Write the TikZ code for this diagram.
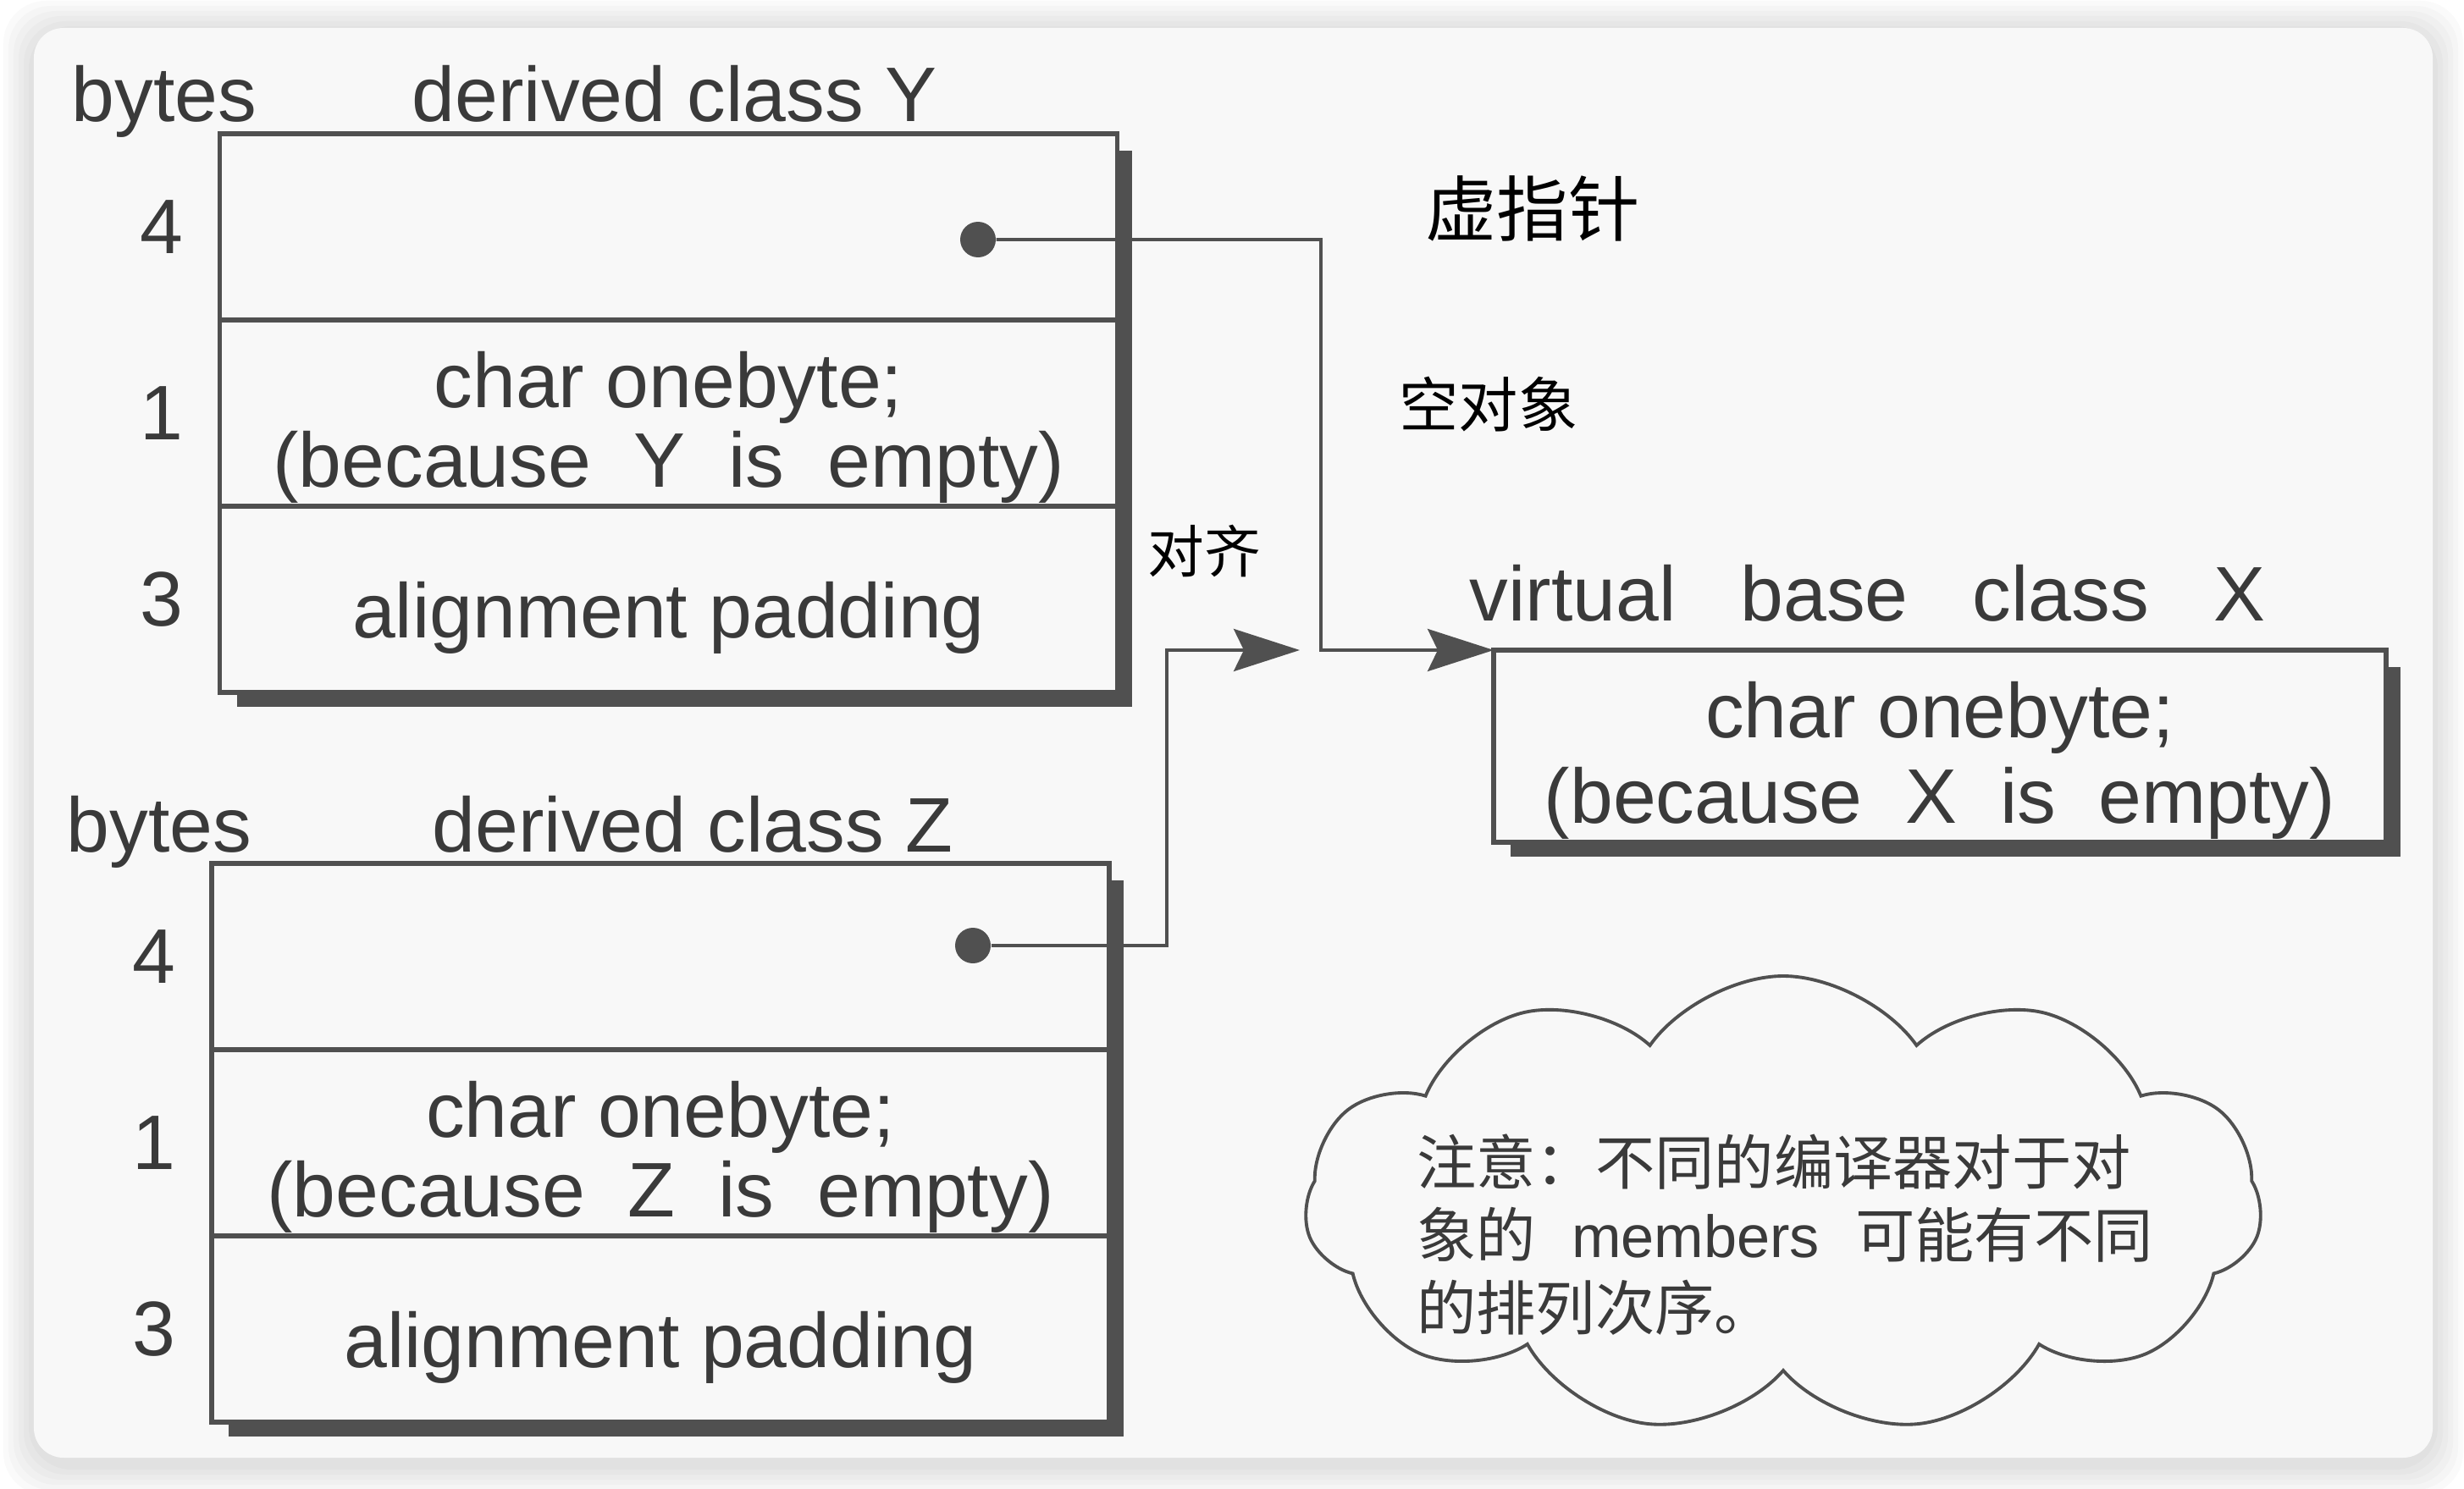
\documentclass[tikz,border=0pt]{standalone}
\usepackage{fontspec}
\setmainfont{Liberation Sans}
\newfontfamily\cjk{Noto Sans CJK SC}
\usepackage{tikz}
\usetikzlibrary{shapes,shapes.symbols,arrows.meta,positioning,calc}
\pgfdeclarelayer{bottom}
\pgfdeclarelayer{background}
\pgfsetlayers{bottom,background,main}
\definecolor{cardbg}{HTML}{F8F8F8}
\definecolor{ink}{HTML}{3A3A3A}
\definecolor{rule}{HTML}{505050}
\tikzstyle{slot}=[rectangle, draw=rule, line width=1.5pt, fill=cardbg, outer sep=0pt, inner ysep=0pt, align=center, text=ink, minimum width=10.6cm, minimum height=2.2cm]
\tikzstyle{pointer}=[circle, fill=rule, minimum size=0.42cm, inner sep=0pt]
\tikzstyle{link}=[draw=rule, line width=1.1pt]
\tikzstyle{bigtip}=[-{Stealth[length=0.78cm, width=0.5cm, inset=0.12cm]}]
\tikzstyle{caption}=[anchor=base west, text=ink, inner sep=0pt]
\tikzstyle{bytenum}=[text=ink, inner sep=0pt]
\tikzstyle{scribble}=[text=black, inner sep=0pt, font=\cjk\fontsize{24}{24}\selectfont]
\newcommand{\slotshadow}[2]{
 \begin{pgfonlayer}{background}
  \fill[rule] ($(#1.north east)+(0.17,-0.2)$) rectangle ($(#2.south west)+(0.2,-0.17)$);
 \end{pgfonlayer}}
\newcommand{\lowone}{\rule{0pt}{1.1cm}}
\newcommand{\lowtwo}{\rule{0pt}{1.0cm}}

\begin{document}
\begin{tikzpicture}[every node/.style = {font=\fontsize{26}{27}\selectfont}]

\useasboundingbox (0,0) rectangle (29.10,-17.58);

% card
\begin{pgfonlayer}{bottom}
 \fill[white] (0,0) rectangle (29.10,-17.58);
 \foreach \s in {0.36,0.30,0.24,0.18,0.12,0.06}
  \fill[black, opacity=0.02, rounded corners=0.5cm] (0.40-\s,-0.33+\s-0.04) rectangle (28.73+\s,-17.22-\s-0.08);
 \fill[cardbg, rounded corners=0.35cm] (0.40,-0.33) rectangle (28.73,-17.22);
\end{pgfonlayer}

\node[slot](y4) at (7.895,-2.68) {};
\node[slot, below=0pt of y4](y1) {\lowtwo char onebyte;\\(because~~Y~~is~~empty)};
\node[slot, below=0pt of y1](y3) {\lowone alignment padding};
\node[slot](z4) at (7.80,-11.30) {};
\node[slot, below=0pt of z4](z1) {\lowtwo char onebyte;\\(because~~Z~~is~~empty)};
\node[slot, below=0pt of z1](z3) {\lowone alignment padding};
\node[slot, minimum width=10.54cm, minimum height=2.27cm](bx) at (22.91,-8.815) {\lowtwo char onebyte;\\[0.06cm](because~~X~~is~~empty)};

\slotshadow{y4}{y3}
\slotshadow{z4}{z3}
\slotshadow{bx}{bx}

\node[caption](bytesY) at (0.84,-1.44) {bytes};
\node[caption](titleY) at (4.86,-1.44) {derived class Y};
\node[caption](bytesZ) at (0.78,-10.06) {bytes};
\node[caption](titleZ) at (5.10,-10.06) {derived class Z};
\node[caption](titleX) at (17.35,-7.33) {virtual~~~base~~~class~~~X};

\node[bytenum, left=0.42cm of y4](ny4) {4};
\node[bytenum, left=0.42cm of y1](ny1) {1};
\node[bytenum, left=0.42cm of y3](ny3) {3};
\node[bytenum, left=0.42cm of z4](nz4) {4};
\node[bytenum, left=0.42cm of z1](nz1) {1};
\node[bytenum, left=0.42cm of z3](nz3) {3};

\node[pointer](py) at (11.55,-2.83) {};
\node[pointer](pz) at (11.49,-11.17) {};
\coordinate (bendY) at (15.60,-7.68);
\coordinate (bendZ) at (13.78,-7.68);
\coordinate (tipZ) at (15.35,-7.68);

\draw[link, bigtip](py) -| (bendY) -- (bx.north west);
\draw[link, bigtip](pz) -| (bendZ) -- (tipZ);

\node[scribble](vptr) at (18.10,-2.46) {虚指针};
\node[scribble, font=\cjk\fontsize{20}{20}\selectfont](emptyobj) at (17.58,-4.78) {空对象};
\node[scribble, font=\cjk\fontsize{19}{19}\selectfont](padnote) at (14.22,-6.51) {对齐};

\node[cloud, draw=rule, line width=1.1pt, cloud puffs=11, cloud puff arc=110, cloud ignores aspect, minimum width=11.3cm, minimum height=5.4cm](note) at (21.06,-14.23) {};
\node[align=left, text=ink, font=\cjk\fontsize{20}{24.5}\selectfont](notetext) at (21.08,-14.59) {注意：不同的编译器对于对\\象的\hspace{0.6em}{\rmfamily members}\hspace{0.6em}可能有不同\\的排列次序。};

\end{tikzpicture}
\end{document}
